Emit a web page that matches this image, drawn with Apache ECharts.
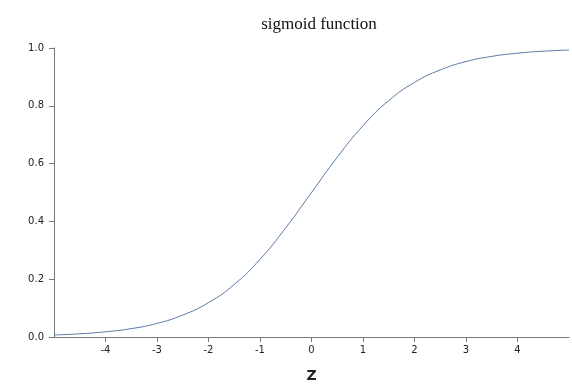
<!DOCTYPE html>
<html>
<head>
<meta charset="utf-8">
<script src="https://cdn.jsdelivr.net/npm/echarts@6/dist/echarts.min.js"></script>
<style>
  html, body { margin: 0; padding: 0; background: #fff; }
  #chart { width: 572px; height: 388px; }
</style>
</head>
<body>
<div id="chart"></div>
<script>
// z values and sigmoid readings
const zValues = [-5, -4.5, -4, -3.5, -3, -2.5, -2, -1.5, -1, -0.5, 0, 0.5, 1, 1.5, 2, 2.5, 3, 3.5, 4, 4.5, 5]
const sigValues = [0.007, 0.011, 0.018, 0.029, 0.047, 0.076, 0.119, 0.182, 0.269, 0.378, 0.5,
  0.622, 0.731, 0.818, 0.881, 0.924, 0.953, 0.971, 0.982, 0.989, 0.993]
const yTicks = [0, 0.2, 0.4, 0.6, 0.8, 1.0]

const chart = echarts.init(document.getElementById('chart'))
const axisFont = { fontFamily: 'DejaVu Sans', fontSize: 10, color: '#222' }

chart.setOption({
  animation: false,
  title: {
    text: 'sigmoid function',
    left: 314,
    top: 11,
    textAlign: 'center',
    textStyle: { fontFamily: 'Liberation Serif', fontSize: 17, fontWeight: 'normal', color: '#111' }
  },
  grid: { left: 54, right: 3, top: 48, bottom: 51 },
  xAxis: {
    type: 'value',
    min: -5,
    max: 5,
    interval: 1,
    name: 'Z',
    nameLocation: 'middle',
    nameGap: 32,
    nameTextStyle: { fontFamily: 'DejaVu Sans', fontSize: 14, fontWeight: 'bold', color: '#222' },
    axisLine: { onZero: false, lineStyle: { color: '#777', width: 1 } },
    axisTick: { length: 5, lineStyle: { color: '#777' } },
    axisLabel: Object.assign({ showMinLabel: false, showMaxLabel: false, margin: 8 }, axisFont),
    splitLine: { show: false }
  },
  yAxis: {
    type: 'value',
    min: 0,
    max: 1,
    interval: 0.2,
    axisLine: { show: true, onZero: false, lineStyle: { color: '#777', width: 1 } },
    axisTick: { show: true, length: 5, lineStyle: { color: '#777' } },
    axisLabel: Object.assign({
      margin: 10,
      formatter: v => yTicks.includes(Math.round(v * 10) / 10) ? v.toFixed(1) : ''
    }, axisFont),
    splitLine: { show: false }
  },
  series: [{
    type: 'line',
    data: zValues.map((z, i) => [z, sigValues[i]]),
    smooth: true,
    showSymbol: false,
    lineStyle: { color: '#5a7aa2', width: 1 }
  }]
})
</script>
</body>
</html>
